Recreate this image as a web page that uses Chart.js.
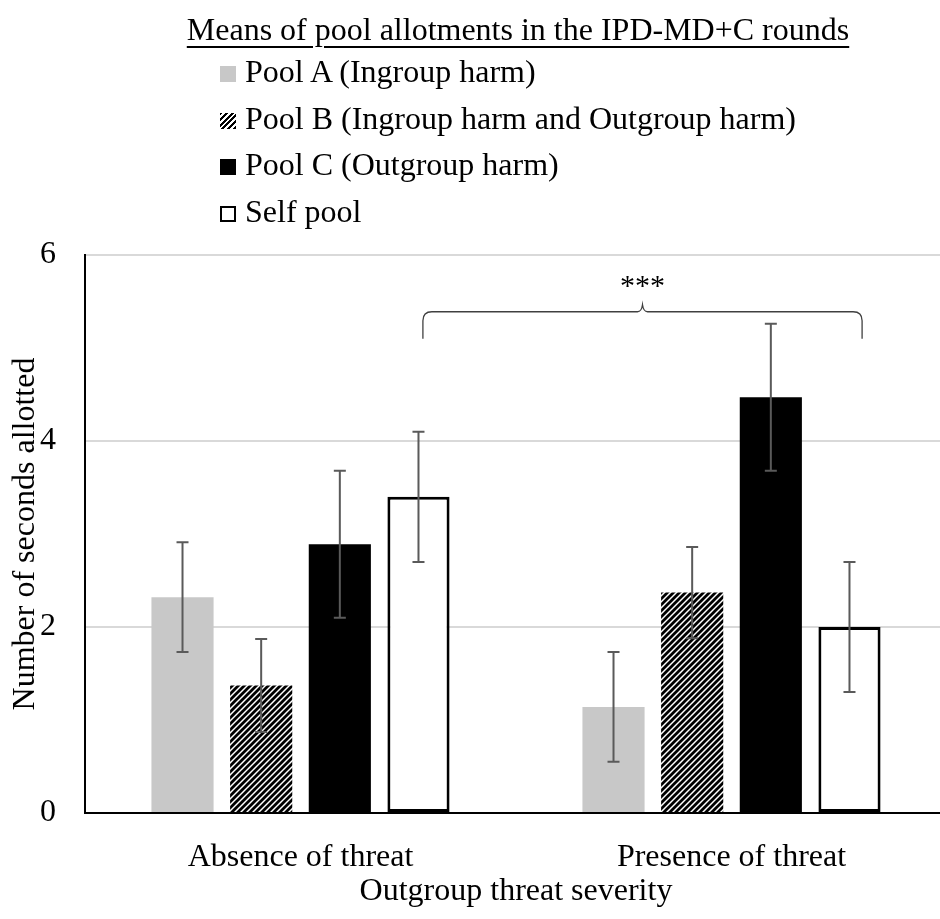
<!DOCTYPE html>
<html>
<head>
<meta charset="utf-8">
<script src="https://cdn.jsdelivr.net/npm/chart.js@4.4.1/dist/chart.umd.min.js"></script>
<style>
    html, body { margin: 0; padding: 0; background: #fff; overflow: hidden; width: 940px; height: 919px; }
    #box { position: relative; width: 947px; height: 919px; }
    #grafico { position: absolute; left: 0; top: 0; }
    #titolo { position: absolute; left: 0; width: 1036px; top: 11px; text-align: center; font-family: 'Liberation Serif', serif; font-size: 32px; line-height: 36px; color: #000; }
    #titolo span { text-decoration: underline; text-decoration-thickness: 2px; text-underline-offset: 6px; }
    #legenda { position: absolute; left: 220px; top: 48px; font-family: 'Liberation Serif', serif; font-size: 32px; line-height: 46.7px; color: #000; }
    .voce { white-space: nowrap; }
    .quadrato { display: inline-block; width: 16px; height: 16px; margin-right: 9px; box-sizing: border-box; vertical-align: baseline; }
</style>
</head>
<body>
<div id="box">
    <canvas id="grafico" width="947" height="919"></canvas>
    <div id="titolo"><span>Means of pool allotments in the IPD-MD+C rounds</span></div>
    <div id="legenda"></div>
</div>
<script>
var categorie = ['Absence of threat', 'Presence of threat'];
var nomiPool = ['Pool A (Ingroup harm)', 'Pool B (Ingroup harm and Outgroup harm)', 'Pool C (Outgroup harm)', 'Self pool'];
var poolA = [2.32, 1.14];
var poolB = [1.37, 2.37];
var poolC = [2.89, 4.47];
var selfPool = [3.40, 2.00];
var erroreA = [0.59, 0.59];
var erroreB = [0.50, 0.49];
var erroreC = [0.79, 0.79];
var erroreSelf = [0.70, 0.70];
var tickY = [0, 2, 4, 6];
var asseY = 'Number of seconds allotted';
var asseX = 'Outgroup threat severity';
var stelle = '***';

var font = { family: 'Liberation Serif', size: 32 };

// trama a righe diagonali per il Pool B
function creaTrama() {
    var c = document.createElement('canvas');
    c.width = 6;
    c.height = 6;
    var g = c.getContext('2d');
    g.fillStyle = '#fff';
    g.fillRect(0, 0, 6, 6);
    g.strokeStyle = '#000';
    g.lineWidth = 2.8;
    g.beginPath();
    g.moveTo(-3, 3); g.lineTo(3, -3);
    g.moveTo(0, 6); g.lineTo(6, 0);
    g.moveTo(3, 9); g.lineTo(9, 3);
    g.stroke();
    return g.createPattern(c, 'repeat');
}

var errori = [erroreA, erroreB, erroreC, erroreSelf];

var barreErrore = {
    id: 'barreErrore',
    afterDatasetsDraw: function(chart) {
        var ctx = chart.ctx;
        var y = chart.scales.y;
        ctx.save();
        ctx.strokeStyle = '#5a5a5a';
        ctx.lineWidth = 2;
        chart.data.datasets.forEach(function(ds, i) {
            var meta = chart.getDatasetMeta(i);
            meta.data.forEach(function(bar, j) {
                var v = ds.data[j];
                var e = errori[i][j];
                var alto = y.getPixelForValue(v + e);
                var basso = y.getPixelForValue(v - e);
                ctx.beginPath();
                ctx.moveTo(bar.x, alto); ctx.lineTo(bar.x, basso);
                ctx.moveTo(bar.x - 6, alto); ctx.lineTo(bar.x + 6, alto);
                ctx.moveTo(bar.x - 6, basso); ctx.lineTo(bar.x + 6, basso);
                ctx.stroke();
            });
        });
        ctx.restore();
    }
};

// parentesi graffa con gli asterischi
var graffa = {
    id: 'graffa',
    afterDraw: function(chart) {
        var ctx = chart.ctx;
        var x = chart.scales.x;
        var y = chart.scales.y;
        var xs = x.getPixelForValue(0.284);
        var xd = x.getPixelForValue(1.303);
        var xm = (xs + xd) / 2;
        var yh = y.getPixelForValue(5.39);
        var yb = y.getPixelForValue(5.10);
        var r = 9;
        ctx.save();
        ctx.strokeStyle = '#404040';
        ctx.lineWidth = 1.3;
        ctx.beginPath();
        ctx.moveTo(xs, yb);
        ctx.lineTo(xs, yh + r);
        ctx.quadraticCurveTo(xs, yh, xs + r, yh);
        ctx.lineTo(xm - 5, yh);
        ctx.quadraticCurveTo(xm - 1, yh, xm, yh - 7);
        ctx.quadraticCurveTo(xm + 1, yh, xm + 5, yh);
        ctx.lineTo(xd - r, yh);
        ctx.quadraticCurveTo(xd, yh, xd, yh + r);
        ctx.lineTo(xd, yb);
        ctx.stroke();
        ctx.fillStyle = '#000';
        ctx.font = '30px "Liberation Serif"';
        ctx.textAlign = 'center';
        ctx.textBaseline = 'middle';
        ctx.fillText(stelle, xm, yh - 25);
        ctx.restore();
    }
};

var trama = creaTrama();
var colori = ['#c8c8c8', trama, '#000000', '#ffffff'];
var valori = [poolA, poolB, poolC, selfPool];

var datasets = valori.map(function(v, i) {
    return {
        label: nomiPool[i],
        data: v,
        backgroundColor: colori[i],
        borderColor: '#000',
        borderWidth: i == 3 ? 3 : 0,
        borderSkipped: false,
        categoryPercentage: 0.73,
        barPercentage: 0.79
    };
});

// legenda in html
var legenda = document.getElementById('legenda');
var stiliMarca = [
    'background:#c8c8c8;',
    'background:repeating-linear-gradient(135deg,#000 0 2px,#fff 2px 4px);',
    'background:#000;',
    'background:#fff;border:2px solid #000;'
];
nomiPool.forEach(function(n, i) {
    var riga = document.createElement('div');
    riga.className = 'voce';
    riga.innerHTML = '<span class="quadrato" style="' + stiliMarca[i] + '"></span>' + n;
    legenda.appendChild(riga);
});

new Chart(document.getElementById('grafico'), {
    type: 'bar',
    data: {
        labels: categorie,
        datasets: datasets
    },
    options: {
        responsive: false,
        animation: false,
        layout: { padding: { top: 255, right: 0, left: 0, bottom: 0 } },
        plugins: {
            legend: { display: false },
            tooltip: { enabled: false }
        },
        scales: {
            x: {
                grid: { display: false },
                border: { display: true, color: '#000', width: 2 },
                ticks: { color: '#000', font: font, padding: 17 },
                title: { display: true, text: asseX, color: '#000', font: font, padding: { top: 0, bottom: 8 } },
                afterFit: function(s) { s.height = 106; }
            },
            y: {
                min: 0,
                max: 6,
                grid: { color: '#d9d9d9', lineWidth: 2, drawTicks: false },
                border: { display: true, color: '#000', width: 2 },
                ticks: { color: '#000', font: font, padding: 29 },
                afterBuildTicks: function(s) { s.ticks = tickY.map(function(v) { return { value: v }; }); },
                title: { display: true, text: asseY, color: '#000', font: font, padding: { top: 6, bottom: 0 } },
                afterFit: function(s) { s.width = 85; }
            }
        }
    },
    plugins: [barreErrore, graffa]
});
</script>
</body>
</html>
